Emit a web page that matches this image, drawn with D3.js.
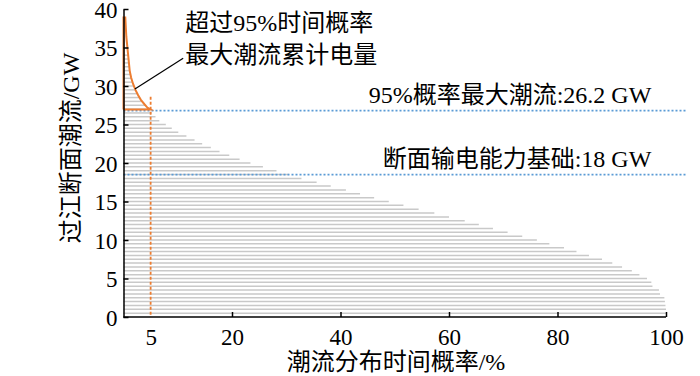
<!DOCTYPE html>
<html>
<head>
<meta charset="utf-8">
<script src="https://cdn.jsdelivr.net/npm/d3@7"></script>
<style>
  body { margin: 0; background: #fff; }
  text { font-family: "Liberation Serif", "Noto Sans CJK SC", serif; }
</style>
</head>
<body>
<div id="chart"></div>
<script>
// flow levels (GW) and the share of time the flow exceeds each level (%)
const flowLevels = [
  0.5, 1.0, 1.5, 2.0, 2.5, 3.0, 3.5, 4.0, 4.5, 5.0,
  5.5, 6.0, 6.5, 7.0, 7.5, 8.0, 8.5, 9.0, 9.5, 10.0,
  10.5, 11.0, 11.5, 12.0, 12.5, 13.0, 13.5, 14.0, 14.5, 15.0,
  15.5, 16.0, 16.5, 17.0, 17.5, 18.0, 18.5, 19.0, 19.5, 20.0,
  20.5, 21.0, 21.5, 22.0, 22.5, 23.0, 23.5, 24.0, 24.5, 25.0,
  25.5, 26.0, 26.5, 27.0, 27.5, 28.0, 28.5, 29.0, 29.5, 30.0,
  30.5, 31.0, 31.5, 32.0, 32.5, 33.0, 33.5, 34.0
];
const exceedProb = [
  100, 100, 99.9, 99.8, 99.7, 98.9, 98.7, 97.5, 97.3, 96.5,
  95.1, 93.7, 91.9, 90.1, 88.2, 85.8, 83.5, 81.2, 78.5, 76.2,
  73.5, 70.8, 68.1, 65.5, 62.9, 60.0, 57.3, 54.4, 51.6, 48.9,
  46.2, 43.6, 41.0, 38.2, 35.6, 32.8, 30.5, 28.2, 25.7, 23.4,
  21.4, 19.5, 17.7, 16.1, 14.5, 13.1, 11.6, 10.1, 8.9, 7.8,
  6.6, 5.9, 5.2, 4.7, 4.0, 3.4, 3.0, 2.55, 2.2, 1.9,
  1.65, 1.45, 1.3, 1.13, 1.05, 0.98, 0.9, 0.82
];

// orange envelope above the 95% level: [probability %, flow GW]
const tailCurve = [
  [5.0, 26.95], [4.4, 27.2], [3.9, 27.6], [3.2, 28.2], [2.7, 28.8],
  [2.2, 29.5], [1.75, 30.3], [1.4, 31.1], [1.14, 32.0], [0.83, 34.2],
  [0.52, 36.4], [0.33, 38.9]
];
const tailBase = 26.95;
const tailTop = 38.9;

const xTicks = [5, 20, 40, 60, 80, 100];
const yTicks = [0, 5, 10, 15, 20, 25, 30, 35, 40];

const refLines = [
  { value: 26.8, label: "95%概率最大潮流:26.2 GW" },
  { value: 18.5, label: "断面输电能力基础:18 GW" }
];
const calloutLines = ["超过95%时间概率", "最大潮流累计电量"];

const width = 700, height = 376;

const svg = d3.select("#chart")
  .append("svg")
  .attr("width", width)
  .attr("height", height);

const x = d3.scaleLinear().domain([0, 100]).range([123.5, 666]);
const y = d3.scaleLinear().domain([0, 40]).range([317, 9]);

const bars = flowLevels.map((v, i) => ({ v: v, p: exceedProb[i] }));

// grey duration lines
svg.append("g")
  .selectAll("line")
  .data(bars)
  .join("line")
  .attr("x1", x(0))
  .attr("x2", d => x(d.p))
  .attr("y1", d => y(d.v))
  .attr("y2", d => y(d.v))
  .attr("stroke", "#c9c9c9")
  .attr("stroke-width", 1.5);

// blue dotted reference lines
svg.append("g")
  .selectAll("line")
  .data(refLines)
  .join("line")
  .attr("x1", x(0))
  .attr("x2", x(103.7))
  .attr("y1", d => y(d.value))
  .attr("y2", d => y(d.value))
  .attr("stroke", "#5b9bd5")
  .attr("stroke-width", 1.8)
  .attr("stroke-dasharray", "2,2");

svg.append("g")
  .selectAll("text")
  .data(refLines)
  .join("text")
  .attr("x", x(97.3))
  .attr("y", d => y(d.value) - 8)
  .attr("text-anchor", "end")
  .style("font-size", "24px")
  .text(d => d.label);

// orange dashed marker at 5 %
svg.append("line")
  .attr("x1", x(5)).attr("x2", x(5))
  .attr("y1", y(28.6)).attr("y2", y(0))
  .attr("stroke", "#ed7d31")
  .attr("stroke-width", 1.8)
  .attr("stroke-dasharray", "3,2");

// orange outline of the tail area
const tailPath = [[0, tailBase]].concat(tailCurve, [[0, tailTop], [0, tailBase]]);
svg.append("path")
  .datum(tailPath)
  .attr("fill", "none")
  .attr("stroke", "#ed7d31")
  .attr("stroke-width", 2)
  .attr("d", d3.line().x(d => x(d[0])).y(d => y(d[1])).curve(d3.curveLinear));

// axes
const xAxis = svg.append("g")
  .attr("transform", `translate(0,${y(0)})`)
  .call(d3.axisBottom(x).tickValues(xTicks).tickSizeInner(-5).tickSizeOuter(0).tickPadding(12));
const yAxis = svg.append("g")
  .attr("transform", `translate(${x(0)},0)`)
  .call(d3.axisLeft(y).tickValues(yTicks).tickSizeInner(-5).tickSizeOuter(0).tickPadding(6));

[xAxis, yAxis].forEach(g => {
  g.select(".domain").attr("stroke", "#000").attr("stroke-width", 1.5);
  g.selectAll(".tick line").attr("stroke", "#000").attr("stroke-width", 1.5);
  g.selectAll(".tick text")
    .attr("fill", "#000")
    .style("font-family", "'Liberation Serif', serif")
    .style("font-size", "23px");
});
yAxis.selectAll(".tick text").attr("dy", "0.36em");
xAxis.selectAll(".tick").filter(d => d === 5).select("line").remove();
xAxis.select(".domain").attr("d", `M${x(0)},0H${x(100)}`);

// axis titles
svg.append("text")
  .attr("x", 396)
  .attr("y", 370)
  .attr("text-anchor", "middle")
  .style("font-size", "24px")
  .text("潮流分布时间概率/%");

svg.append("text")
  .attr("transform", `translate(79,148) rotate(-90)`)
  .attr("text-anchor", "middle")
  .style("font-size", "24px")
  .text("过江断面潮流/GW");

// callout
svg.append("line")
  .attr("x1", x(2.1)).attr("y1", y(29.6))
  .attr("x2", x(11.0)).attr("y2", y(33.6))
  .attr("stroke", "#000")
  .attr("stroke-width", 1.2);

svg.append("g")
  .selectAll("text")
  .data(calloutLines)
  .join("text")
  .attr("x", x(11.4))
  .attr("y", (d, i) => 31 + i * 32)
  .style("font-size", "24px")
  .text(d => d);
</script>
</body>
</html>
